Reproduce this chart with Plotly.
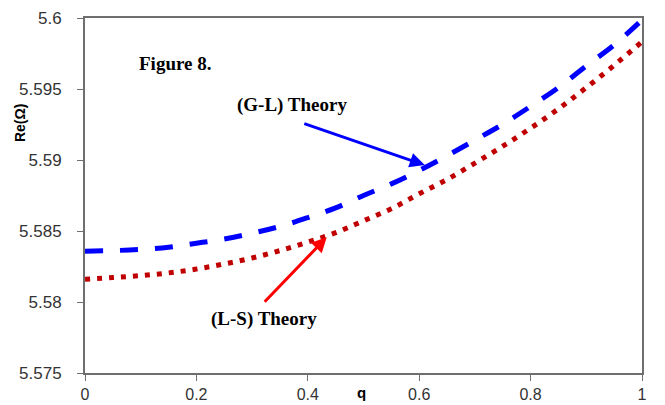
import plotly.graph_objects as go

q = [0.0, 0.05, 0.1, 0.15, 0.2, 0.25, 0.3, 0.35, 0.4, 0.45, 0.5,
     0.55, 0.6, 0.65, 0.7, 0.75, 0.8, 0.85, 0.9, 0.95, 1.0]
gl_theory = [5.58358, 5.58362, 5.58370, 5.58385, 5.58414, 5.58443, 5.58484,
             5.58532, 5.58594, 5.58663, 5.58750, 5.58832, 5.58926, 5.59030,
             5.59140, 5.59252, 5.59378, 5.59510, 5.59663, 5.59810, 5.59986]
ls_theory = [5.58160, 5.58172, 5.58186, 5.58205, 5.58232, 5.58268, 5.58310,
             5.58362, 5.58422, 5.58488, 5.58572, 5.58657, 5.58762, 5.58863,
             5.58978, 5.59097, 5.59224, 5.59360, 5.59510, 5.59667, 5.59833]

x_tickvals = [0, 0.2, 0.4, 0.6, 0.8, 1.0]
x_ticktext = ["0", "0.2", "0.4", "0.6", "0.8", "1"]
y_tickvals = [5.575, 5.58, 5.585, 5.59, 5.595, 5.6]
y_ticktext = ["5.575", "5.58", "5.585", "5.59", "5.595", "5.6"]

fig = go.Figure()
fig.add_trace(go.Scatter(x=q, y=ls_theory, mode="lines", line_shape="spline",
                         line=dict(color="#C00000", width=5, dash="5px,7px"),
                         name="(L-S) Theory"))
fig.add_trace(go.Scatter(x=q, y=gl_theory, mode="lines", line_shape="spline",
                         line=dict(color="#0000FF", width=5, dash="18px,17px"),
                         name="(G-L) Theory"))

serif_bold = dict(family="Liberation Serif, Times New Roman, serif", size=19, color="#000000")

fig.add_annotation(x=0.162, y=5.59683, xref="x", yref="y", text="<b>Figure 8.</b>",
                   showarrow=False, font=serif_bold)
fig.add_annotation(x=0.372, y=5.59387, xref="x", yref="y", text="<b>(G-L) Theory</b>",
                   showarrow=False, font=serif_bold)
fig.add_annotation(x=0.322, y=5.57878, xref="x", yref="y", text="<b>(L-S) Theory</b>",
                   showarrow=False, font=serif_bold)

# arrows
fig.add_annotation(x=0.610, y=5.58964, ax=0.391, ay=5.59260, xref="x", yref="y",
                   axref="x", ayref="y", text="", showarrow=True, arrowhead=2,
                   arrowsize=1, arrowwidth=3, arrowcolor="#0000FF")
fig.add_annotation(x=0.434, y=5.58456, ax=0.320, ay=5.57991, xref="x", yref="y",
                   axref="x", ayref="y", text="", showarrow=True, arrowhead=2,
                   arrowsize=1, arrowwidth=3, arrowcolor="#FF0000")

# axis titles
fig.add_annotation(xref="paper", yref="paper", x=0.497, y=0, yshift=-19,
                   yanchor="middle", text="<b>q</b>", showarrow=False,
                   font=dict(family="Liberation Sans, Arial", size=15, color="#000000"))
fig.add_annotation(xref="paper", yref="paper", x=0, y=0.704, xshift=-65,
                   xanchor="center", yanchor="middle", text="<b>Re(Ω)</b>",
                   showarrow=False, textangle=-90,
                   font=dict(family="Liberation Sans, Arial", size=14, color="#000000"))

axis_common = dict(showgrid=False, zeroline=False, showline=True, mirror=True,
                   linecolor="#6f6f6f", linewidth=2, ticks="outside", ticklen=6,
                   tickcolor="#6f6f6f", tickwidth=1, automargin=False)

fig.update_layout(
    width=657, height=397,
    margin=dict(l=77, r=23, t=10, b=32, autoexpand=False),
    paper_bgcolor="white", plot_bgcolor="white",
    showlegend=False,
    xaxis=dict(range=[0, 1], tickvals=x_tickvals, ticktext=x_ticktext,
               tickfont=dict(family="Liberation Sans, Arial", size=16, color="#333333"),
               **axis_common),
    yaxis=dict(range=[5.575, 5.6], tickvals=y_tickvals, ticktext=y_ticktext,
               ticklabelstandoff=12,
               tickfont=dict(family="Liberation Sans, Arial", size=17, color="#333333"),
               **axis_common),
)

fig.write_html("out.html")
